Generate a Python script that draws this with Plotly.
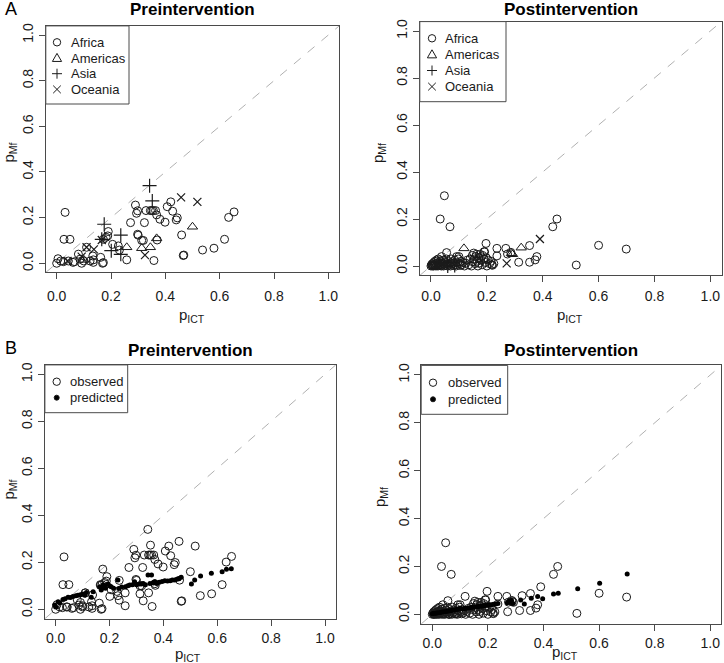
import plotly.graph_objects as go

W, H = 724, 663

# ---------------- DATA ----------------
# Panel A, pre-intervention, by region (p_ICT, p_Mf)
pre_africa_x = [0.0, 0.005, 0.031, 0.027, 0.049, 0.025, 0.043, 0.06, 0.08, 0.086, 0.092, 0.11, 0.133, 0.135,
                0.162, 0.169, 0.172, 0.172, 0.182, 0.188, 0.19, 0.206, 0.227, 0.231, 0.258, 0.272, 0.29, 0.294,
                0.298, 0.298, 0.3, 0.313, 0.319, 0.323, 0.329, 0.345, 0.35, 0.356, 0.364, 0.368, 0.37, 0.358,
                0.38, 0.399, 0.407, 0.42, 0.427, 0.44, 0.444, 0.46, 0.466, 0.468, 0.537, 0.579, 0.618, 0.633,
                0.653, 0.123, 0.066, 0.015, 0.1, 0.135]
pre_africa_y = [0.0, 0.02, 0.223, 0.105, 0.105, 0.007, 0.01, 0.004, 0.04, 0.018, 0.0, 0.07, 0.032, 0.004,
                0.026, 0.0, 0.003, 0.105, 0.114, 0.12, 0.139, 0.083, 0.076, 0.058, 0.015, 0.178, 0.255, 0.219,
                0.23, 0.127, 0.123, 0.1, 0.1, 0.178, 0.231, 0.231, 0.231, 0.231, 0.231, 0.212, 0.102, 0.012,
                0.193, 0.18, 0.248, 0.269, 0.228, 0.19, 0.199, 0.124, 0.034, 0.036, 0.058, 0.066, 0.105, 0.201,
                0.225, 0.01, 0.007, 0.01, 0.01, 0.015]
pre_americas_x = [0.1, 0.258, 0.313, 0.345, 0.368, 0.5]
pre_americas_y = [0.015, 0.07, 0.066, 0.07, 0.109, 0.16]
pre_asia_x = [0.175, 0.236, 0.201, 0.236, 0.342, 0.352, 0.166]
pre_asia_y = [0.171, 0.123, 0.055, 0.039, 0.34, 0.273, 0.105]
pre_oceania_x = [0.092, 0.11, 0.137, 0.04, 0.325, 0.458, 0.518, 0.166]
pre_oceania_y = [0.029, 0.07, 0.061, 0.01, 0.036, 0.289, 0.269, 0.102]

# Panel A, post-intervention, by region
post_africa_x = [0.048, 0.033, 0.068, 0.056, 0.436, 0.451, 0.6, 0.699, 0.52, 0.353, 0.314, 0.353, 0.373,
                 0.379, 0.268, 0.274, 0.286, 0.236, 0.236, 0.197, 0.19, 0.225, 0.22,
                 0.0, 0.002, 0.004, 0.005, 0.006, 0.008, 0.01, 0.01, 0.012, 0.014, 0.015, 0.017, 0.018, 0.02,
                 0.021, 0.023, 0.025, 0.026, 0.028, 0.03, 0.032, 0.034, 0.035, 0.037, 0.038, 0.04, 0.042,
                 0.044, 0.045, 0.047, 0.05, 0.052, 0.055, 0.057, 0.06, 0.062, 0.065, 0.068, 0.07, 0.072,
                 0.075, 0.078, 0.08, 0.083, 0.085, 0.088, 0.09, 0.092, 0.095, 0.098, 0.1, 0.103, 0.105,
                 0.108, 0.11, 0.115, 0.12, 0.125, 0.13, 0.135, 0.14, 0.145, 0.148, 0.15, 0.153, 0.155,
                 0.158, 0.16, 0.163, 0.165, 0.168, 0.17, 0.172, 0.175, 0.178, 0.18, 0.183, 0.185, 0.19,
                 0.192, 0.195, 0.198, 0.2, 0.205, 0.21, 0.215, 0.218]
post_africa_y = [0.299, 0.2, 0.167, 0.057, 0.167, 0.2, 0.088, 0.072, 0.004, 0.087, 0.016, 0.016, 0.026,
                 0.04, 0.075, 0.051, 0.058, 0.075, 0.043, 0.096, 0.061, 0.01, 0.003,
                 0.0, 0.005, 0.002, 0.01, 0.0, 0.004, 0.015, 0.0, 0.006, 0.02, 0.002, 0.01, 0.0, 0.025,
                 0.005, 0.012, 0.0, 0.03, 0.006, 0.015, 0.002, 0.022, 0.008, 0.0, 0.04, 0.012, 0.004,
                 0.025, 0.0, 0.009, 0.018, 0.003, 0.03, 0.01, 0.0, 0.02, 0.006, 0.014, 0.0, 0.03,
                 0.008, 0.018, 0.002, 0.012, 0.025, 0.005, 0.0, 0.04, 0.015, 0.03, 0.04, 0.01, 0.002,
                 0.02, 0.005, 0.015, 0.0, 0.012, 0.025, 0.005, 0.03, 0.0, 0.045, 0.018, 0.055, 0.03,
                 0.01, 0.04, 0.05, 0.02, 0.0, 0.035, 0.012, 0.05, 0.025, 0.04, 0.005, 0.045, 0.03,
                 0.06, 0.015, 0.035, 0.0, 0.025, 0.01, 0.02, 0.005]
post_americas_x = [0.118, 0.288, 0.292, 0.323]
post_americas_y = [0.075, 0.054, 0.05, 0.078]
post_asia_x = [0.06, 0.085]
post_asia_y = [0.0, 0.002]
post_oceania_x = [0.39, 0.271]
post_oceania_y = [0.115, 0.011]

# Panel B, model predictions
pre_pred_x = [-0.004, 0.0, 0.009, 0.015, 0.027, 0.035, 0.046, 0.055, 0.064, 0.075, 0.083, 0.092, 0.101,
              0.108, 0.114, 0.132, 0.139, 0.163, 0.169, 0.172, 0.176, 0.18, 0.185, 0.194, 0.2, 0.206,
              0.215, 0.231, 0.234, 0.245, 0.259, 0.268, 0.275, 0.285, 0.293, 0.3, 0.31, 0.318, 0.325,
              0.333, 0.343, 0.35, 0.356, 0.362, 0.368, 0.375, 0.385, 0.395, 0.405, 0.415, 0.425, 0.433,
              0.442, 0.45, 0.458, 0.466, 0.504, 0.516, 0.538, 0.578, 0.618, 0.634, 0.652]
pre_pred_y = [0.018, 0.01, 0.032, 0.028, 0.042, 0.045, 0.051, 0.05, 0.054, 0.058, 0.06, 0.062, 0.065,
              0.06, 0.071, 0.051, 0.075, 0.096, 0.082, 0.09, 0.103, 0.1, 0.09, 0.108, 0.1, 0.096,
              0.09, 0.125, 0.089, 0.095, 0.096, 0.1, 0.103, 0.105, 0.117, 0.105, 0.108, 0.108, 0.11,
              0.105, 0.146, 0.11, 0.146, 0.112, 0.117, 0.11, 0.115, 0.118, 0.122, 0.12, 0.122, 0.125,
              0.125, 0.128, 0.13, 0.136, 0.108, 0.125, 0.142, 0.153, 0.16, 0.17, 0.173]
post_pred_x = [0.0, 0.005, 0.01, 0.015, 0.02, 0.028, 0.035, 0.042, 0.05, 0.058, 0.065, 0.072, 0.08, 0.088,
               0.095, 0.1, 0.108, 0.115, 0.122, 0.13, 0.138, 0.145, 0.152, 0.16, 0.168, 0.175, 0.182,
               0.19, 0.198, 0.205, 0.212, 0.22, 0.228, 0.236, 0.27, 0.275, 0.28, 0.285, 0.29, 0.318,
               0.331, 0.356, 0.379, 0.397, 0.436, 0.453, 0.523, 0.602, 0.701]
post_pred_y = [0.002, 0.004, 0.005, 0.006, 0.007, 0.008, 0.01, 0.011, 0.012, 0.014, 0.015, 0.017, 0.018,
               0.02, 0.022, 0.025, 0.022, 0.024, 0.025, 0.026, 0.028, 0.03, 0.03, 0.032, 0.033, 0.034,
               0.036, 0.037, 0.038, 0.039, 0.04, 0.042, 0.043, 0.045, 0.048, 0.055, 0.05, 0.058, 0.045,
               0.06, 0.043, 0.067, 0.074, 0.065, 0.085, 0.088, 0.107, 0.13, 0.169]

tick_vals = [0.0, 0.2, 0.4, 0.6, 0.8, 1.0]
tick_text = ["0.0", "0.2", "0.4", "0.6", "0.8", "1.0"]
panel_titles = ["Preintervention", "Postintervention", "Preintervention", "Postintervention"]
panel_letters = ["A", "B"]
region_names = ["Africa", "Americas", "Asia", "Oceania"]
series_names = ["observed", "predicted"]

# ---------------- LAYOUT ----------------
FONT = "Liberation Sans, Arial, Helvetica, sans-serif"
INK = "#1a1a1a"
BOX = "#4a4a4a"


def px_x(v):
    return v / W


def px_y(v):
    return 1 - v / H


# plot boxes in pixels: (left, right, top, bottom)
boxes = [
    (45.8, 339.2, 25.9, 272.4),   # A pre
    (419.8, 721.5, 21.6, 275.4),  # A post
    (44.9, 335.8, 364.9, 618.7),  # B pre
    (421.2, 721.4, 365.4, 623.9),  # B post
]
x_label_standoff = [5, 2, 0, 0]
xlab_pos = [(192, 315), (570, 315), (188, 654), (565, 652)]
ylab_pos = [(8.5, 153), (378, 153), (8.5, 490), (380, 497)]
title_y = [10, 10, 350, 350]
# legend boxes: (left, top, right, bottom, key x, text x, first row y, row step)
legend_geo = [
    (45.8, 25.9, 129, 104, 57, 68.5, 42.3, 15.7),
    (419.8, 21.6, 506, 101.7, 432, 443.5, 38.3, 16.1),
    (44.9, 364.9, 127.7, 412.7, 56.7, 68, 381.7, 16),
    (421.2, 365.4, 507.7, 414.3, 433, 445.5, 382.7, 16.6),
]

fig = go.Figure()

open_circle = dict(symbol="circle-open", size=8, color=INK, line=dict(width=1, color=INK))
tri = dict(symbol="triangle-up-open", size=9, color=INK, line=dict(width=1, color=INK))
plus = dict(symbol="cross-thin-open", size=10, color=INK, line=dict(width=1.2, color=INK))
cross = dict(symbol="x-thin-open", size=8, color=INK, line=dict(width=1.2, color=INK))
dot = dict(symbol="circle", size=5, color="black", line=dict(width=0))


def add_region_panel(i, ax, ay, bx, by, cx, cy, dx, dy):
    sfx = "" if i == 1 else str(i)
    for name, xs, ys, m in zip(region_names, [ax, bx, cx, dx], [ay, by, cy, dy],
                               [open_circle, tri, plus, cross]):
        fig.add_trace(go.Scatter(x=xs, y=ys, mode="markers", name=name, marker=m,
                                 xaxis="x" + sfx, yaxis="y" + sfx, showlegend=False))


def add_obs_panel(i, ox, oy, qx, qy):
    sfx = str(i)
    fig.add_trace(go.Scatter(x=ox, y=oy, mode="markers", name=series_names[0], marker=open_circle,
                             xaxis="x" + sfx, yaxis="y" + sfx, showlegend=False))
    fig.add_trace(go.Scatter(x=qx, y=qy, mode="markers", name=series_names[1], marker=dot,
                             xaxis="x" + sfx, yaxis="y" + sfx, showlegend=False))


add_region_panel(1, pre_africa_x, pre_africa_y, pre_americas_x, pre_americas_y,
                 pre_asia_x, pre_asia_y, pre_oceania_x, pre_oceania_y)
add_region_panel(2, post_africa_x, post_africa_y, post_americas_x, post_americas_y,
                 post_asia_x, post_asia_y, post_oceania_x, post_oceania_y)
add_obs_panel(3, pre_africa_x + pre_americas_x + pre_asia_x + pre_oceania_x,
              pre_africa_y + pre_americas_y + pre_asia_y + pre_oceania_y, pre_pred_x, pre_pred_y)
add_obs_panel(4, post_africa_x + post_americas_x + post_asia_x + post_oceania_x,
              post_africa_y + post_americas_y + post_asia_y + post_oceania_y, post_pred_x, post_pred_y)

layout = dict(
    width=W, height=H, margin=dict(l=0, r=0, t=0, b=0, pad=0),
    paper_bgcolor="white", plot_bgcolor="white",
    font=dict(family=FONT, color=INK, size=14),
    showlegend=False,
)

shapes = []
annotations = []


def key_shapes(kind, cx, cy):
    """Legend key glyph drawn as paper-space shapes (pixel geometry -> paper)."""
    ln = dict(color=INK, width=1)
    out = []
    if kind in ("circle", "dot"):
        r = 3.7 if kind == "circle" else 2.5
        d = dict(type="circle", xref="paper", yref="paper",
                 x0=px_x(cx - r), x1=px_x(cx + r), y0=px_y(cy + r), y1=px_y(cy - r), line=ln)
        if kind == "dot":
            d["fillcolor"] = "black"
        out.append(d)
    elif kind == "triangle":
        s = 4.6
        path = "M %f %f L %f %f L %f %f Z" % (px_x(cx), px_y(cy - s), px_x(cx - s), px_y(cy + s * 0.75),
                                             px_x(cx + s), px_y(cy + s * 0.75))
        out.append(dict(type="path", xref="paper", yref="paper", path=path, line=ln))
    elif kind == "plus":
        s = 5
        out.append(dict(type="line", xref="paper", yref="paper", x0=px_x(cx - s), x1=px_x(cx + s),
                        y0=px_y(cy), y1=px_y(cy), line=ln))
        out.append(dict(type="line", xref="paper", yref="paper", x0=px_x(cx), x1=px_x(cx),
                        y0=px_y(cy - s), y1=px_y(cy + s), line=ln))
    elif kind == "x":
        s = 3.8
        out.append(dict(type="line", xref="paper", yref="paper", x0=px_x(cx - s), x1=px_x(cx + s),
                        y0=px_y(cy - s), y1=px_y(cy + s), line=ln))
        out.append(dict(type="line", xref="paper", yref="paper", x0=px_x(cx - s), x1=px_x(cx + s),
                        y0=px_y(cy + s), y1=px_y(cy - s), line=ln))
    return out


for k, (l, r, t, b) in enumerate(boxes):
    i = k + 1
    sfx = "" if i == 1 else str(i)
    axis_common = dict(range=[-0.04, 1.04], tickvals=tick_vals, ticktext=tick_text,
                       ticks="outside", ticklen=6, tickwidth=1, tickcolor=BOX,
                       showline=True, mirror=True, linecolor=BOX, linewidth=1,
                       showgrid=False, zeroline=False, automargin=False,
                       tickfont=dict(family=FONT, size=14, color=INK))
    layout["xaxis" + sfx] = dict(axis_common, domain=[px_x(l), px_x(r)], anchor="y" + sfx,
                                 ticklabelstandoff=x_label_standoff[k])
    layout["yaxis" + sfx] = dict(axis_common, domain=[px_y(b), px_y(t)], anchor="x" + sfx,
                                 tickangle=-90)
    # identity reference line
    shapes.append(dict(type="line", xref="x" + sfx, yref="y" + sfx,
                       x0=-0.04, y0=-0.04, x1=1.04, y1=1.04,
                       line=dict(color="#b0b0b0", width=1, dash="dash"), layer="below"))
    cx = (l + r) / 2
    annotations.append(dict(text="<b>%s</b>" % panel_titles[k], xref="paper", yref="paper",
                            x=px_x(cx), y=px_y(title_y[k]), xanchor="center", yanchor="middle",
                            showarrow=False, font=dict(size=17, family=FONT, color="black")))
    annotations.append(dict(text="p<sub>ICT</sub>", xref="paper", yref="paper",
                            x=px_x(xlab_pos[k][0]), y=px_y(xlab_pos[k][1]),
                            xanchor="center", yanchor="middle",
                            showarrow=False, font=dict(size=15, family=FONT, color=INK)))
    annotations.append(dict(text="p<sub>Mf</sub>", xref="paper", yref="paper",
                            x=px_x(ylab_pos[k][0]), y=px_y(ylab_pos[k][1]),
                            xanchor="center", yanchor="middle",
                            textangle=-90, showarrow=False, font=dict(size=15, family=FONT, color=INK)))

    # legend (box, keys, labels)
    gl, gt, gr, gb, kx, tx, ry, step = legend_geo[k]
    shapes.append(dict(type="rect", xref="paper", yref="paper", x0=px_x(gl), x1=px_x(gr),
                       y0=px_y(gb), y1=px_y(gt), line=dict(color=BOX, width=1), fillcolor="white",
                       layer="above"))
    if k < 2:
        names, kinds = region_names, ["circle", "triangle", "plus", "x"]
    else:
        names, kinds = series_names, ["circle", "dot"]
    for j, (nm, kd) in enumerate(zip(names, kinds)):
        yy = ry + j * step
        shapes.extend(key_shapes(kd, kx, yy))
        annotations.append(dict(text=nm, xref="paper", yref="paper", x=px_x(tx), y=px_y(yy),
                                xanchor="left", yanchor="middle", showarrow=False,
                                font=dict(size=13, family=FONT, color=INK)))

for j, (lx, ly) in enumerate([(3, 9), (3, 348)]):
    annotations.append(dict(text=panel_letters[j], xref="paper", yref="paper", x=px_x(lx), y=px_y(ly),
                            xanchor="left", yanchor="middle", showarrow=False,
                            font=dict(size=18, family=FONT, color="black")))

layout["shapes"] = shapes
layout["annotations"] = annotations
fig.update_layout(**layout)

fig.write_html("out.html", config={"displayModeBar": False},
               post_script="document.body.style.margin='0';")
